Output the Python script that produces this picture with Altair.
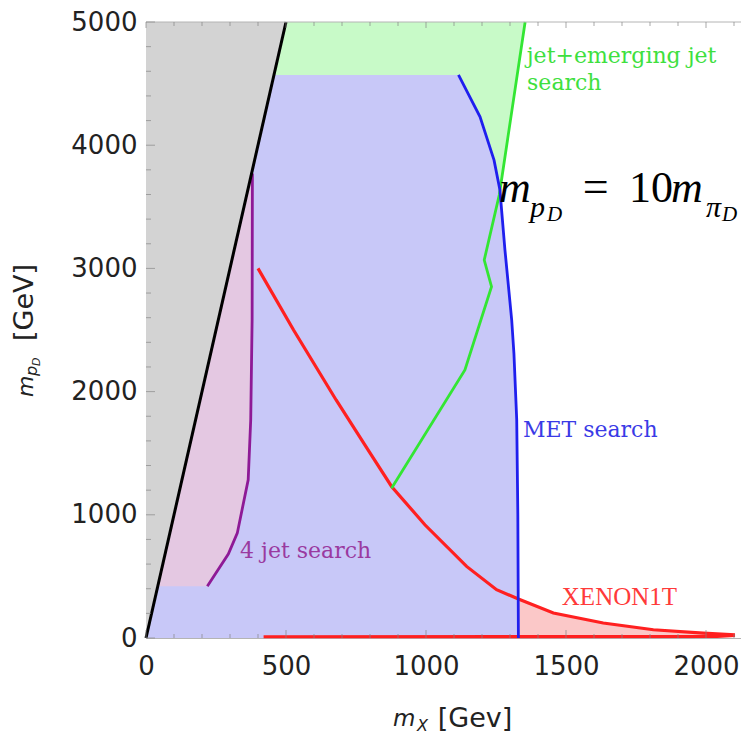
import altair as alt
import pandas as pd

# ---------------- data ----------------
# kinematic boundary m_pD = 10 m_X
black_x = [0, 500]
black_y = [0, 5000]

# MET search boundary (blue)
met_x = [1330, 1328, 1324, 1314, 1306, 1282, 1264, 1243, 1193, 1116]
met_y = [0, 1000, 1771, 2311, 2583, 3149, 3636, 3879, 4230, 4570]

# 4 jet search boundary (purple)
jet4_x = [219, 294, 326, 365, 374, 379, 380]
jet4_y = [420, 681, 851, 1284, 1771, 2583, 3770]

# jet + emerging jet search boundary (green)
emj_x = [877, 1139, 1234, 1208, 1262, 1354]
emj_y = [1216, 2176, 2852, 3068, 3600, 5000]

# XENON1T boundary (red)
xen_x = [400, 527, 679, 793, 877, 996, 1145, 1252, 1330, 1455, 1633, 1812, 1990, 2098]
xen_y = [3000, 2500, 1932, 1527, 1230, 919, 581, 392, 316, 203, 122, 67, 40, 26]
xen_floor_x = [2098, 2040, 420]
xen_floor_y = [20, 12, 10]
xen_base = 10

# axes
x_major = [0, 500, 1000, 1500, 2000]
x_minor = [100, 200, 300, 400, 600, 700, 800, 900, 1100, 1200, 1300, 1400,
           1600, 1700, 1800, 1900, 2100]
y_major = [0, 1000, 2000, 3000, 4000, 5000]
y_minor = [200, 400, 600, 800, 1200, 1400, 1600, 1800, 2200, 2400, 2600, 2800,
           3200, 3400, 3600, 3800, 4200, 4400, 4600, 4800]
x_max = 2125
y_max = 5000

# ---------------- scales / axes ----------------
xs = alt.Scale(domain=[0, x_max], nice=False, zero=False)
ys = alt.Scale(domain=[0, y_max], nice=False, zero=False)
xaxis = alt.Axis(title=None, values=x_major, ticks=False, labelPadding=15,
                 labelFontSize=26, labelFont="DejaVu Sans", labelColor="#222222",
                 domainColor="#b4b4b4", grid=False, format="d",
                 labelFlush=False, labelOverlap=False)
yaxis = alt.Axis(title=None, values=y_major, ticks=False, labelPadding=9,
                 labelFontSize=26, labelFont="DejaVu Sans", labelColor="#222222",
                 domainColor="#b4b4b4", grid=False, format="d",
                 labelFlush=False, labelOverlap=False)


def X(f="x"):
    return alt.X(f"{f}:Q", scale=xs, axis=xaxis)


def Y(f="y"):
    return alt.Y(f"{f}:Q", scale=ys, axis=yaxis)


def curve(xv, yv):
    return pd.DataFrame({"x": xv, "y": yv, "i": list(range(len(xv)))})


# ---------------- fills ----------------
red_fill = alt.Chart(pd.DataFrame({"x": xen_x, "y": xen_y,
                                   "y2": [xen_base] * len(xen_x)})).mark_area(
    color="#fbc8c8", opacity=1).encode(x=X(), y=Y(), y2="y2:Q")

green_fill = alt.Chart(curve(emj_x, emj_y)).mark_area(
    orient="horizontal", color="#c8fac8", opacity=1).encode(x=X(), y=Y())

blue_fill = alt.Chart(curve(met_x, met_y)).mark_area(
    orient="horizontal", color="#c8c8f8", opacity=1).encode(x=X(), y=Y())

pink_fill = alt.Chart(curve(jet4_x, jet4_y)).mark_area(
    orient="horizontal", color="#e4c8e2", opacity=1).encode(x=X(), y=Y())

gray_fill = alt.Chart(curve(black_x, black_y)).mark_area(
    orient="horizontal", color="#d3d3d3", opacity=1).encode(x=X(), y=Y())

# ---------------- lines ----------------


def line(df, color, width):
    return alt.Chart(df).mark_line(color=color, strokeWidth=width).encode(
        x=X(), y=Y(), order=alt.Order("i:Q"))


red_line = line(curve(xen_x + xen_floor_x, xen_y + xen_floor_y), "#ff2020", 3.2)
green_line = line(curve(emj_x, emj_y), "#33e633", 2.8)
blue_line = line(curve(met_x, met_y), "#1f1fee", 2.8)
purple_line = line(curve(jet4_x, jet4_y), "#8e1a96", 2.8)
black_line = line(curve(black_x, black_y), "#000000", 3)

top_rule = alt.Chart(pd.DataFrame({"x": [0], "x2": [x_max], "y": [y_max]})).mark_rule(
    color="#b4b4b4", strokeWidth=1).encode(x=X(), x2="x2:Q", y=Y())

# ---------------- ticks (inward) ----------------


def xticks(vals, yv, size, off):
    return alt.Chart(pd.DataFrame({"x": vals, "y": [yv] * len(vals)})).mark_tick(
        orient="vertical", size=size, thickness=1, yOffset=off, color="#888888"
    ).encode(x=X(), y=Y())


def yticks(vals, size):
    return alt.Chart(pd.DataFrame({"y": vals, "x": [0] * len(vals)})).mark_tick(
        orient="horizontal", size=size, thickness=1, xOffset=size / 2, color="#888888"
    ).encode(x=X(), y=Y())


ticks = [xticks(x_major, 0, 8, -4), xticks(x_minor, 0, 4, -2),
         xticks(x_major, y_max, 6, 3), xticks(x_minor, y_max, 4, 2),
         yticks(y_major, 9), yticks(y_minor, 5)]

# ---------------- text ----------------


def texts(rows, **kw):
    df = pd.DataFrame(rows, columns=["t", "x", "y", "s"])
    return alt.Chart(df).mark_text(align="left", baseline="alphabetic", **kw).encode(
        x=X(), y=Y(), text="t:N", size=alt.Size("s:Q", scale=None))


labels = [
    texts([["jet+emerging jet", 1360, 4667, 22], ["search", 1361, 4448, 22]],
          font="DejaVu Serif", color="#3ee03e"),
    texts([["MET search", 1346, 1632, 22]], font="DejaVu Serif", color="#3a3ae6"),
    texts([["4 jet search", 336, 649, 22]], font="DejaVu Serif", color="#9a3aa0"),
    texts([["XENON1T", 1485, 268, 25]], font="Liberation Serif", color="#ff3a3a"),
    # equation m_{p_D} = 10 m_{pi_D}
    texts([["m", 1261, 3539, 44], ["p", 1371, 3417, 30], ["D", 1432, 3385, 21],
           ["m", 1875, 3539, 44], ["π", 2000, 3417, 30], ["D", 2057, 3385, 21]],
          font="Liberation Serif", fontStyle="italic", color="#000000"),
    texts([["=", 1560, 3539, 46], ["10", 1725, 3539, 44]],
          font="Liberation Serif", color="#000000"),
    # x-axis title  m_X [Gev]
    texts([["m", 882, -714, 23], ["X", 968, -755, 16]],
          font="DejaVu Sans", fontStyle="italic", color="#222222"),
    texts([["[Gev]", 1042, -722, 27]], font="DejaVu Sans", color="#222222"),
    # y-axis title  m_{p_D} [GeV]
    texts([["m", -404, 1956, 22], ["p", -389, 2127, 16], ["D", -379, 2208, 11]],
          font="DejaVu Sans", fontStyle="italic", color="#222222", angle=270),
    texts([["[GeV]", -404, 2411, 27]], font="DejaVu Sans", color="#222222", angle=270),
]

chart = alt.layer(
    red_fill, green_fill, blue_fill, pink_fill, gray_fill,
    red_line, green_line, blue_line, purple_line, black_line,
    top_rule, *ticks, *labels
).properties(
    width=595, height=616,
    autosize=alt.AutoSizeParams(type="none"),
    padding={"left": 138, "top": 14, "right": 0, "bottom": 99},
).configure_view(stroke=None)

chart.save("out.html", embed_options={"renderer": "svg", "actions": False})
